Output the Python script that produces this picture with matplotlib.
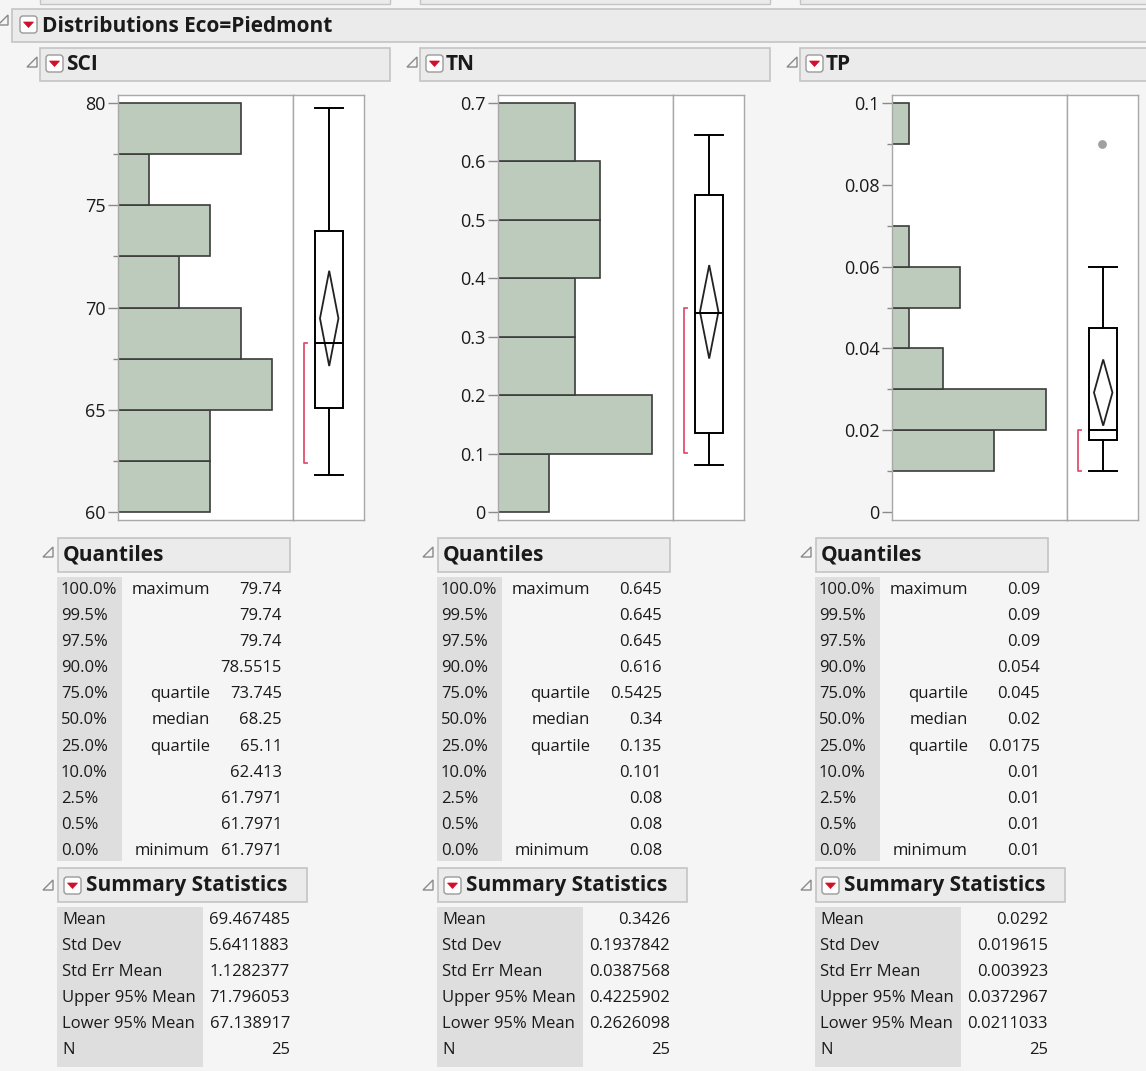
"""JMP-style Distributions report (Eco = Piedmont) rebuilt with matplotlib."""

import matplotlib

matplotlib.use("Agg")
import matplotlib.pyplot as plt
from matplotlib.patches import FancyBboxPatch, Polygon, Rectangle

W, H = 1146, 1071
BG = "#F5F5F5"
HEAD_FILL = "#EBEBEB"
HEAD_EDGE = "#C4C4C4"
COL_FILL = "#DEDEDE"
BAR_FILL = "#BCCBBC"
BAR_EDGE = "#3C3C3C"
SPINE = "#A8A8A8"
TEXT = "#1A1A1A"
RED = "#D0102A"
BRACKET = "#E0506E"
plt.rcParams["font.family"] = ["Open Sans", "Noto Sans", "DejaVu Sans"]
HEAD_FONT = ["Open Sans", "Liberation Sans", "DejaVu Sans"]

# ---- data ----
variables = ["SCI", "TN", "TP"]

sci_edges = [60, 62.5, 65, 67.5, 70, 72.5, 75, 77.5, 80]
sci_counts = [3, 3, 5, 4, 2, 3, 1, 4]
tn_edges = [0, 0.1, 0.2, 0.3, 0.4, 0.5, 0.6, 0.7]
tn_counts = [2, 6, 3, 3, 4, 4, 3]
tp_edges = [0, 0.01, 0.02, 0.03, 0.04, 0.05, 0.06, 0.07, 0.08, 0.09, 0.1]
tp_counts = [0, 6, 9, 3, 1, 4, 1, 0, 0, 1]

sci_ticks = [60, 65, 70, 75, 80]
sci_tick_labels = ["60", "65", "70", "75", "80"]
tn_ticks = [0, 0.1, 0.2, 0.3, 0.4, 0.5, 0.6, 0.7]
tn_tick_labels = ["0", "0.1", "0.2", "0.3", "0.4", "0.5", "0.6", "0.7"]
tp_ticks = [0, 0.02, 0.04, 0.06, 0.08, 0.1]
tp_tick_labels = ["0", "0.02", "0.04", "0.06", "0.08", "0.1"]

quantile_levels = ["100.0%", "99.5%", "97.5%", "90.0%", "75.0%", "50.0%",
                   "25.0%", "10.0%", "2.5%", "0.5%", "0.0%"]
quantile_names = ["maximum", "", "", "", "quartile", "median", "quartile", "", "", "", "minimum"]
sci_quantiles = ["79.74", "79.74", "79.74", "78.5515", "73.745", "68.25",
                 "65.11", "62.413", "61.7971", "61.7971", "61.7971"]
tn_quantiles = ["0.645", "0.645", "0.645", "0.616", "0.5425", "0.34",
                "0.135", "0.101", "0.08", "0.08", "0.08"]
tp_quantiles = ["0.09", "0.09", "0.09", "0.054", "0.045", "0.02",
                "0.0175", "0.01", "0.01", "0.01", "0.01"]

stat_names = ["Mean", "Std Dev", "Std Err Mean", "Upper 95% Mean", "Lower 95% Mean", "N"]
sci_stats = ["69.467485", "5.6411883", "1.1282377", "71.796053", "67.138917", "25"]
tn_stats = ["0.3426", "0.1937842", "0.0387568", "0.4225902", "0.2626098", "25"]
tp_stats = ["0.0292", "0.019615", "0.003923", "0.0372967", "0.0211033", "25"]

# whisker ends, outliers and shortest half as drawn in the box plots
sci_whiskers = [61.7971, 79.74]
tn_whiskers = [0.08, 0.645]
tp_whiskers = [0.01, 0.06]
sci_outliers = []
tn_outliers = []
tp_outliers = [0.09]
sci_short_half = [62.413, 68.25]
tn_short_half = [0.101, 0.35]
tp_short_half = [0.01, 0.02]

panels = [
    (sci_edges, sci_counts, sci_ticks, sci_tick_labels, sci_quantiles, sci_stats,
     sci_whiskers, sci_outliers, sci_short_half),
    (tn_edges, tn_counts, tn_ticks, tn_tick_labels, tn_quantiles, tn_stats,
     tn_whiskers, tn_outliers, tn_short_half),
    (tp_edges, tp_counts, tp_ticks, tp_tick_labels, tp_quantiles, tp_stats,
     tp_whiskers, tp_outliers, tp_short_half),
]

# ---- layout (pixels) ----
header_left = [40, 420, 800]
hist_left = [118, 498, 892]
table_left = [57, 437, 815]
PLOT_TOP, PLOT_BOTTOM = 95, 520
HIST_W, BOX_W = 175, 71

fig = plt.figure(figsize=(W / 100, H / 100), dpi=100)
fig.patch.set_facecolor(BG)
bg = fig.add_axes([0, 0, 1, 1], zorder=0)
bg.set_xlim(0, W)
bg.set_ylim(H, 0)
bg.axis("off")


def px_axes(x0, y0, x1, y1):
    return fig.add_axes([x0 / W, 1 - y1 / H, (x1 - x0) / W, (y1 - y0) / H], zorder=2)


def header_box(x0, y0, x1, y1):
    bg.add_patch(Rectangle((x0, y0), x1 - x0, y1 - y0, facecolor=HEAD_FILL,
                           edgecolor=HEAD_EDGE, linewidth=1.2))


def header_text(x, y, label, size=15):
    bg.text(x, y, label, fontsize=size, fontweight="bold", family=HEAD_FONT,
            color=TEXT, va="center", ha="left")


def dropdown(x, y):
    bg.add_patch(FancyBboxPatch((x, y), 17, 17, boxstyle="round,pad=0,rounding_size=3",
                                facecolor="white", edgecolor="#9A9A9A", linewidth=1))
    bg.add_patch(Polygon([(x + 3.5, y + 6), (x + 13.5, y + 6), (x + 8.5, y + 11.5)],
                         closed=True, facecolor=RED, edgecolor=RED, linewidth=0.5))


def disclosure(x, y):
    bg.add_patch(Polygon([(x, y + 10), (x + 10, y + 10), (x + 10, y)], closed=True,
                         facecolor="none", edgecolor="#8A8A8A", linewidth=1))


# remnants of the boxes above the report
for left in header_left:
    bg.add_patch(Rectangle((left, -10), 350, 14, facecolor=HEAD_FILL, edgecolor=HEAD_EDGE, linewidth=1))

# main header
header_box(12, 9, 1152, 42)
disclosure(-2, 15)
dropdown(20, 16)
header_text(42, 26, "Distributions Eco=Piedmont")

for i, (edges, counts, ticks, tick_labels, quants, stats, whiskers, outliers,
        short_half) in enumerate(panels):
    # variable header
    hx = header_left[i]
    header_box(hx, 48, hx + 350, 81)
    disclosure(hx - 13, 57)
    dropdown(hx + 6, 55)
    header_text(hx + 26, 64.5, variables[i])

    # histogram
    lo, hi = edges[0], edges[-1]
    pad = (hi - lo) * 8 / 409
    hl = hist_left[i]
    hist = px_axes(hl, PLOT_TOP, hl + HIST_W, PLOT_BOTTOM)
    box = px_axes(hl + HIST_W, PLOT_TOP, hl + HIST_W + BOX_W, PLOT_BOTTOM)
    for axis in (hist, box):
        axis.set_facecolor("white")
        axis.set_ylim(lo - pad, hi + pad)
        for spine in axis.spines.values():
            spine.set_color(SPINE)
            spine.set_linewidth(1)

    bars = [(e, c, e2 - e) for e, e2, c in zip(edges[:-1], edges[1:], counts) if c > 0]
    hist.barh([b[0] for b in bars], [b[1] for b in bars], height=[b[2] for b in bars],
              align="edge", color=BAR_FILL, edgecolor=BAR_EDGE, linewidth=1.2)
    hist.set_xlim(0, max(counts) * 1.14)
    hist.set_xticks([])
    hist.set_yticks(ticks, tick_labels)
    hist.set_yticks(edges, minor=True)
    hist.tick_params(axis="y", which="major", length=7, width=1, color="#8A8A8A",
                     labelsize=13, labelcolor=TEXT, pad=2)
    hist.tick_params(axis="y", which="minor", length=3.5, width=1, color="#8A8A8A")

    # outlier box plot
    q = [float(v) for v in quants]
    mean, upper, lower = float(stats[0]), float(stats[3]), float(stats[4])
    cx, bx0, bx1 = 0.51, 0.31, 0.70
    box.set_xlim(0, 1)
    box.set_xticks([])
    box.set_yticks([])
    box.add_patch(Rectangle((bx0, q[6]), bx1 - bx0, q[4] - q[6], facecolor="none",
                            edgecolor="black", linewidth=1.4))
    box.plot([bx0, bx1], [q[5], q[5]], color="black", linewidth=1.4)
    box.plot([cx, cx], [whiskers[0], q[6]], color="black", linewidth=1.4)
    box.plot([cx, cx], [q[4], whiskers[1]], color="black", linewidth=1.4)
    for w in whiskers:
        box.plot([bx0, bx1], [w, w], color="black", linewidth=1.4)
    box.add_patch(Polygon([(cx, lower), (cx + 0.13, mean), (cx, upper), (cx - 0.13, mean)],
                          closed=True, facecolor="none", edgecolor="#222222", linewidth=1.3))
    if outliers:
        box.scatter([0.49] * len(outliers), outliers, s=28, color="#A0A0A0", zorder=3)
    box.plot([0.2, 0.15, 0.15, 0.2], [short_half[1], short_half[1], short_half[0], short_half[0]],
             color=BRACKET, linewidth=1.3)

    # quantiles table
    tx = table_left[i]
    disclosure(tx - 14, 547)
    header_box(tx + 1, 538, tx + 233, 572)
    header_text(tx + 6, 555, "Quantiles")
    bg.add_patch(Rectangle((tx, 577), 65, 284, facecolor=COL_FILL, edgecolor="none"))
    for r in range(len(quantile_levels)):
        y = 590 + 26.1 * r
        bg.text(tx + 4, y, quantile_levels[r], fontsize=12, color=TEXT, va="center", ha="left")
        bg.text(tx + 153, y, quantile_names[r], fontsize=12, color=TEXT, va="center", ha="right")
        bg.text(tx + 225, y, quants[r], fontsize=12, color=TEXT, va="center", ha="right")

    # summary statistics table
    disclosure(tx - 14, 880)
    header_box(tx + 1, 868, tx + 250, 902)
    dropdown(tx + 7, 877)
    header_text(tx + 29, 885, "Summary Statistics")
    bg.add_patch(Rectangle((tx, 907), 146, 160, facecolor=COL_FILL, edgecolor="none"))
    for r in range(len(stat_names)):
        y = 920 + 26 * r
        bg.text(tx + 5, y, stat_names[r], fontsize=12, color=TEXT, va="center", ha="left")
        bg.text(tx + 233, y, stats[r], fontsize=12, color=TEXT, va="center", ha="right")

fig.savefig("out.png", dpi=100, facecolor=fig.get_facecolor())
